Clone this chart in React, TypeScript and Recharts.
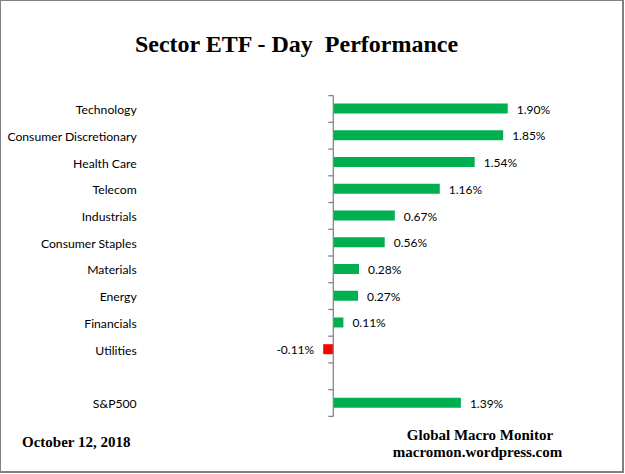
import React from 'react';
import { BarChart, Bar, XAxis, YAxis, Cell, LabelList, ReferenceLine } from 'recharts';

const categories = [
  'Technology',
  'Consumer Discretionary',
  'Health Care',
  'Telecom',
  'Industrials',
  'Consumer Staples',
  'Materials',
  'Energy',
  'Financials',
  'Utilities',
  '',
  'S&P500',
];
const values: (number | null)[] = [1.9, 1.85, 1.54, 1.16, 0.67, 0.56, 0.28, 0.27, 0.11, -0.11, null, 1.39];
const valueDomain = [-2, 2.5];

const data = categories.map((name, i) => ({ name, value: values[i] }));

const GREEN = '#00B050';
const RED = '#FF0000';
const AXIS = '#868686';
const LABEL_FONT = 'Lato, "Liberation Sans", Arial, sans-serif';
const SERIF = '"Liberation Serif", "Times New Roman", serif';

const AxisShape = (p: any) => {
  const x = p.x1;
  const top = Math.min(p.y1, p.y2);
  const bottom = Math.max(p.y1, p.y2);
  const n = categories.length;
  const step = (bottom - top) / n;
  const ticks = [];
  for (let i = 0; i <= n; i++) {
    const y = top + i * step;
    ticks.push(<line key={i} x1={x - 5} x2={x} y1={y} y2={y} stroke={AXIS} strokeWidth={1.3} />);
  }
  return (
    <g>
      <line x1={x} x2={x} y1={top} y2={bottom} stroke={AXIS} strokeWidth={1.3} />
      {ticks}
    </g>
  );
};

const CategoryTick = (p: any) => {
  const { x, y, payload } = p;
  return (
    <text
      x={x}
      y={y + 2}
      textAnchor="end"
      dominantBaseline="middle"
      fontFamily={LABEL_FONT}
      fontSize={12.2}
      fill="#000"
    >
      {payload.value}
    </text>
  );
};

const ValueLabel = (p: any) => {
  const { x, y, width, height, value } = p;
  if (value === null || value === undefined) return null;
  const left = Math.min(x, x + width);
  const right = Math.max(x, x + width);
  const cy = y + height / 2 + 2;
  const neg = value < 0;
  return (
    <text
      x={neg ? left - 9 : right + 9}
      y={cy}
      textAnchor={neg ? 'end' : 'start'}
      dominantBaseline="middle"
      fontFamily={LABEL_FONT}
      fontSize={12}
      fill="#000"
    >
      {value.toFixed(2) + '%'}
    </text>
  );
};

export default function App() {
  return (
    <div style={{ position: 'absolute', left: 0, top: 0, width: 625, height: 474, background: '#fff' }}>
      <BarChart
        width={625}
        height={474}
        data={data}
        layout="vertical"
        margin={{ top: 95.6, right: 62.2, bottom: 57.6, left: 0 }}
      >
        <XAxis type="number" domain={valueDomain} allowDataOverflow hide />
        <YAxis
          type="category"
          dataKey="name"
          width={149.7}
          axisLine={false}
          tickLine={false}
          tickSize={0}
          tickMargin={13}
          interval={0}
          tick={CategoryTick}
        />
        <Bar dataKey="value" barSize={10} isAnimationActive={false}>
          {data.map((d, i) => (
            <Cell key={i} fill={(d.value ?? 0) < 0 ? RED : GREEN} />
          ))}
          <LabelList dataKey="value" content={ValueLabel} />
        </Bar>
        <ReferenceLine x={0} shape={AxisShape} />
      </BarChart>
      <svg
        width={625}
        height={474}
        style={{ position: 'absolute', left: 0, top: 0, pointerEvents: 'none' }}
      >
        <text x={296.5} y={52} textAnchor="middle" fontFamily={SERIF} fontWeight="bold" fontSize={24} fill="#000" style={{ whiteSpace: 'pre' }}>
          {'Sector ETF - Day  Performance'}
        </text>
        <text x={22} y={447} fontFamily={SERIF} fontWeight="bold" fontSize={15} fill="#000">
          October 12, 2018
        </text>
        <text x={480} y={440} textAnchor="middle" fontFamily={SERIF} fontWeight="bold" fontSize={15} fill="#000">
          Global Macro Monitor
        </text>
        <text x={477.5} y={457} textAnchor="middle" fontFamily={SERIF} fontWeight="bold" fontSize={15} fill="#000">
          macromon.wordpress.com
        </text>
      </svg>
      <div
        style={{
          position: 'absolute',
          left: 0,
          top: 0,
          width: 624,
          height: 473,
          boxSizing: 'border-box',
          borderLeft: '1px solid #808080',
          borderTop: '1px solid #808080',
          borderRight: '2px solid #808080',
          borderBottom: '2px solid #808080',
          pointerEvents: 'none',
        }}
      />
    </div>
  );
}
